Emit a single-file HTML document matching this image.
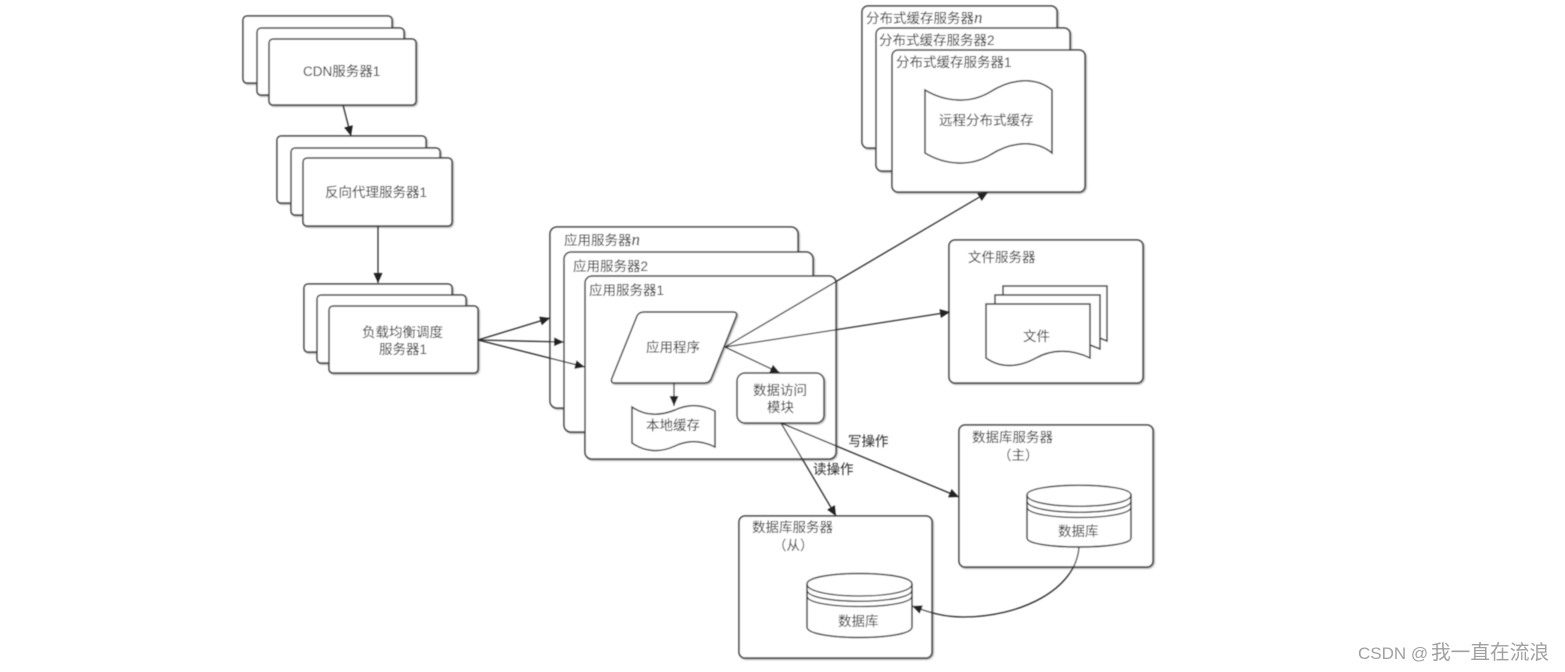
<!DOCTYPE html>
<html><head><meta charset="utf-8"><style>
html,body{margin:0;padding:0;background:#fff;width:1565px;height:672px;overflow:hidden}
svg{display:block;position:absolute;left:0;top:0}
text{font-family:"Liberation Sans","Noto Sans CJK SC",sans-serif;fill:#2a2a2a;font-size:13.5px}
.b{fill:#fff;stroke:#3a3a3a;stroke-width:1.5}
.l{fill:none;stroke:#2a2a2a;stroke-width:1.3}
</style></head><body>
<svg width="1565" height="672" viewBox="0 0 1565 672" xmlns="http://www.w3.org/2000/svg">
<defs>
<filter id="s" x="-5%" y="-5%" width="110%" height="110%"><feDropShadow dx="1" dy="1" stdDeviation="0.8" flood-color="#000" flood-opacity="0.35"/></filter>
<filter id="bl"><feGaussianBlur stdDeviation="0.45"/></filter>
<marker id="a" markerWidth="12" markerHeight="10" refX="10" refY="4.5" orient="auto" markerUnits="userSpaceOnUse"><path d="M0,0 L10,4.5 L0,9 Z" fill="#222"/></marker>
</defs>
<g filter="url(#bl)">
<g filter="url(#s)">
<rect class="b" x="243" y="16" width="149" height="67" rx="4"/>
<rect class="b" x="257" y="28" width="147" height="67" rx="4"/>
<rect class="b" x="269" y="39" width="147" height="66" rx="4"/>
<rect class="b" x="277" y="136" width="149" height="67" rx="4"/>
<rect class="b" x="291" y="148" width="149" height="67" rx="4"/>
<rect class="b" x="303" y="158" width="149" height="68" rx="4"/>
<rect class="b" x="304" y="284" width="148" height="68" rx="4"/>
<rect class="b" x="317" y="295" width="149" height="68" rx="4"/>
<rect class="b" x="329" y="306" width="149" height="67" rx="4"/>
<rect class="b" x="550" y="227" width="248" height="181" rx="7"/>
<rect class="b" x="564" y="252" width="249" height="180" rx="7"/>
<rect class="b" x="585" y="276" width="251" height="183" rx="7"/>
<rect class="b" x="862" y="6" width="195" height="142" rx="6"/>
<rect class="b" x="876" y="28" width="194" height="143" rx="6"/>
<rect class="b" x="892" y="50" width="193" height="142" rx="6"/>
<rect class="b" x="949" y="240" width="194" height="143" rx="6"/>
<rect class="b" x="959" y="425" width="194" height="142" rx="6"/>
<rect class="b" x="739" y="516" width="193" height="142" rx="6"/>
</g>
<path class="b" filter="url(#s)" d="M644,312 H733 Q738,312 736,317 L711,379 Q709,383 704,383 H615 Q610,383 612,378 L637,316 Q639,312 644,312 Z"/>
<rect class="b" filter="url(#s)" x="737" y="373" width="87" height="50" rx="8"/>
<path class="b" d="M632,407 C645,416 660,416 675,410 C690,403 703,405 715,411 V447 C703,441 690,439 675,446 C660,453 645,452 632,443 Z"/>
<path class="b" d="M925,90 C945,102 970,104 990,92 C1010,79 1035,76 1052,90 V153 C1035,139 1010,142 990,155 C970,167 945,165 925,153 Z"/>
<path class="b" d="M1003,304 V286 H1107 V341 L1097,337"/>
<path class="b" d="M995,304 V295 H1100 V349 L1090,345"/>
<path class="b" d="M986,304 H1090 V358 C1072,349 1052,349 1036,358 C1018,368 1000,368 986,358 Z"/>
<path class="b" d="M1027,495 C1027,482 1131,482 1131,495 V538 C1131,550 1027,550 1027,538 Z"/>
<path class="l" d="M1027,495 C1027,510 1131,510 1131,495 M1027,501 C1027,516 1131,516 1131,501 M1027,507 C1027,521 1131,521 1131,507"/>
<path class="b" d="M807,584 C807,570 912,570 912,584 V627 C912,641 807,641 807,627 Z"/>
<path class="l" d="M807,584 C807,600 912,600 912,584 M807,590 C807,605 912,605 912,590 M807,596 C807,610 912,610 912,596"/>
<g class="l">
<line x1="343" y1="105" x2="351" y2="136" marker-end="url(#a)"/>
<line x1="378" y1="226" x2="378" y2="283" marker-end="url(#a)"/>
<line x1="478" y1="340" x2="550" y2="318" marker-end="url(#a)"/>
<line x1="478" y1="340" x2="564" y2="342" marker-end="url(#a)"/>
<line x1="478" y1="340" x2="585" y2="367" marker-end="url(#a)"/>
<line x1="725" y1="347" x2="988" y2="192" marker-end="url(#a)"/>
<line x1="725" y1="347" x2="950" y2="312" marker-end="url(#a)"/>
<line x1="725" y1="347" x2="780" y2="373" marker-end="url(#a)"/>
<line x1="674" y1="383" x2="674" y2="406" marker-end="url(#a)"/>
<line x1="781" y1="423" x2="836" y2="516" marker-end="url(#a)"/>
<line x1="781" y1="423" x2="959" y2="497" marker-end="url(#a)"/>
<path d="M1079,547 C1076,590 1020,617 963,617 C945,617 930,613 912,606" marker-end="url(#a)"/>
</g>
<text x="303" y="76">CDN服务器1</text>
<text x="325" y="197">反向代理服务器1</text>
<text x="362" y="337">负载均衡调度</text>
<text x="379" y="354">服务器1</text>
<text x="564" y="245">应用服务器<tspan style="font-size:17px;font-style:italic;font-family:'Liberation Serif',serif">n</tspan></text>
<text x="573" y="271">应用服务器2</text>
<text x="589" y="295">应用服务器1</text>
<text x="646" y="352">应用程序</text>
<text x="646" y="430">本地缓存</text>
<text x="753" y="395">数据访问</text>
<text x="767" y="412">模块</text>
<text x="866" y="23">分布式缓存服务器<tspan style="font-size:17px;font-style:italic;font-family:'Liberation Serif',serif">n</tspan></text>
<text x="879" y="45">分布式缓存服务器2</text>
<text x="896" y="67">分布式缓存服务器1</text>
<text x="939" y="125">远程分布式缓存</text>
<text x="968" y="262">文件服务器</text>
<text x="1023" y="341">文件</text>
<text x="972" y="442">数据库服务器</text>
<text x="998" y="460">（主）</text>
<text x="1058" y="536">数据库</text>
<text x="752" y="532">数据库服务器</text>
<text x="773" y="550">（从）</text>
<text x="838" y="626">数据库</text>
<text x="848" y="446">写操作</text>
<text x="813" y="474">读操作</text>
</g>
<text x="1358" y="659" style="font-size:17px;fill:#a0a0a0">CSDN @<tspan x="1431" style="font-size:19.7px">我一直在流浪</tspan></text>
</svg>
</body></html>
